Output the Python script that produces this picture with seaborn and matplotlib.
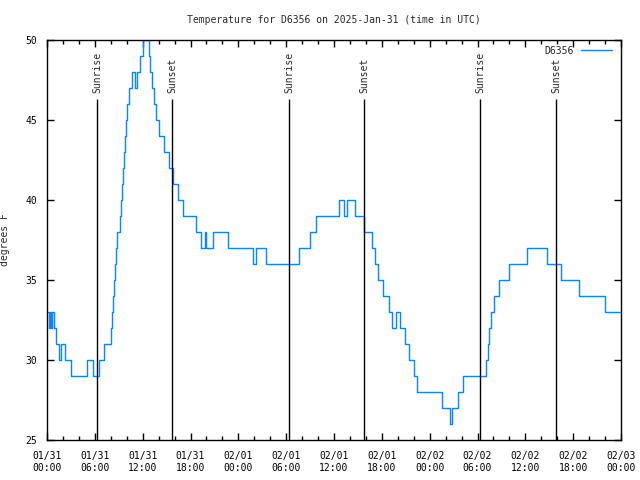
import pandas as pd
import matplotlib
matplotlib.use("Agg")
import matplotlib.pyplot as plt
import matplotlib.dates as mdates
import seaborn as sns

# Temperature readings (hours after 2025-01-31 00:00 UTC, degrees F), value holds until next reading
hours = [0.10, 0.29, 0.42, 0.54, 0.67, 0.84, 1.17, 1.55, 1.80, 2.20,
         3.01, 5.06, 5.81, 6.56, 7.19, 8.03, 8.18, 8.30, 8.43, 8.56,
         8.68, 8.81, 9.20, 9.33, 9.45, 9.58, 9.70, 9.83, 9.93, 10.05,
         10.25, 10.63, 11.05, 11.30, 11.67, 12.00, 12.76, 12.90, 13.15, 13.40,
         13.65, 14.05, 14.70, 15.25, 15.80, 16.45, 17.10, 18.70, 19.35, 19.80,
         20.00, 20.85, 22.65, 25.85, 26.25, 27.50, 31.55, 33.00, 33.75, 36.64,
         37.20, 37.68, 38.68, 39.72, 40.80, 41.15, 41.55, 42.20, 42.87, 43.29,
         43.79, 44.33, 44.88, 45.38, 46.09, 46.38, 49.60, 50.56, 50.85, 51.57,
         52.12, 55.08, 55.30, 55.50, 55.72, 56.05, 56.70, 57.97, 60.23, 62.74,
         64.49, 66.75, 70.01, 71.90]
temps = [33, 32, 33, 32, 33, 32, 31, 30, 31, 30,
         29, 30, 29, 30, 31, 32, 33, 34, 35, 36,
         37, 38, 39, 40, 41, 42, 43, 44, 45, 46,
         47, 48, 47, 48, 49, 50, 49, 48, 47, 46,
         45, 44, 43, 42, 41, 40, 39, 38, 37, 38,
         37, 38, 37, 36, 37, 36, 37, 38, 39, 40,
         39, 40, 39, 38, 37, 36, 35, 34, 33, 32,
         33, 32, 31, 30, 29, 28, 27, 26, 27, 28,
         29, 30, 31, 32, 33, 34, 35, 36, 37, 36,
         35, 34, 33, 33]

sun_hours = [6.30, 15.72, 30.38, 39.80, 54.36, 63.90]
sun_labels = ["Sunrise", "Sunset", "Sunrise", "Sunset", "Sunrise", "Sunset"]

start = pd.Timestamp("2025-01-31 00:00")
df = pd.DataFrame({"time": start + pd.to_timedelta(hours, unit="h"), "temp": temps})
sun_times = start + pd.to_timedelta(sun_hours, unit="h")

sns.set_style("ticks")
plt.rcParams["font.family"] = ["DejaVu Sans Mono"]
plt.rcParams["font.size"] = 7

fig = plt.figure(figsize=(6.4, 4.8), dpi=100)
ax = fig.add_axes([47 / 640, 40 / 480, 574 / 640, 400 / 480])

sns.lineplot(data=df, x="time", y="temp", ax=ax, color="#0a84ff", linewidth=1.0,
             drawstyle="steps-post", label="D6356")

ax.vlines(sun_times, 25, 46.3, color="black", linewidth=1.0)
for t, lab in zip(sun_times, sun_labels):
    ax.text(t, 46.7, lab, rotation=90, ha="center", va="bottom", fontsize=7)

ax.set_xlim(start, start + pd.Timedelta(hours=72))
ax.set_ylim(25, 50)
ax.set_yticks([25, 30, 35, 40, 45, 50])
ax.xaxis.set_major_locator(mdates.HourLocator(byhour=range(0, 24, 6)))
ax.xaxis.set_minor_locator(mdates.HourLocator(interval=2))
ax.xaxis.set_major_formatter(mdates.DateFormatter("%m/%d\n%H:%M"))

ax.tick_params(which="both", direction="in", top=True, right=True, colors="black",
               labelsize=7, width=1)
ax.tick_params(which="major", length=5)
ax.tick_params(which="minor", length=3)
ax.tick_params(axis="x", pad=8)
ax.tick_params(axis="y", pad=7)
for s in ax.spines.values():
    s.set_color("black")
    s.set_linewidth(1)

ax.set_xlabel("")
ax.set_ylabel("degrees F", fontsize=7)
ax.yaxis.set_label_coords(-0.064, 0.5)
ax.set_title("Temperature for D6356 on 2025-Jan-31 (time in UTC)", fontsize=7, pad=12)

ax.legend(loc="upper right", frameon=False, markerfirst=False, handlelength=3.2,
          fontsize=7, borderaxespad=0.2, bbox_to_anchor=(0.995, 1.0))

fig.savefig("out.png", dpi=100)
